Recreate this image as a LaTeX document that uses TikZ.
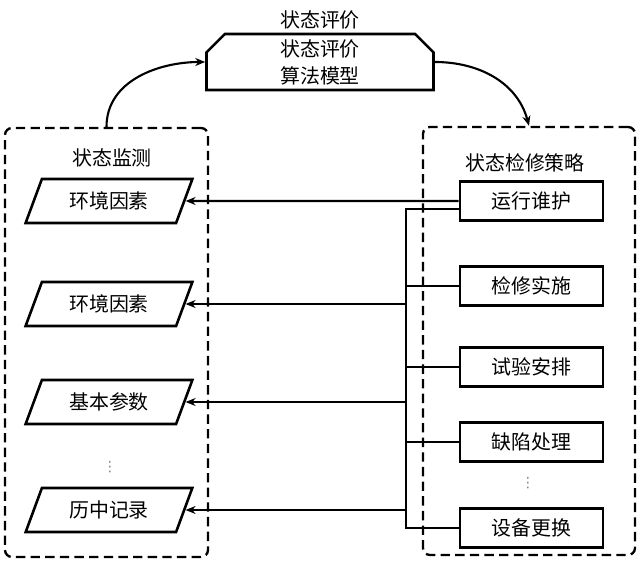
\documentclass[tikz,border=0pt]{standalone}
\usepackage{fontspec}
\newfontfamily\cjk{Noto Sans CJK SC}
\newfontfamily\symfont{DejaVu Sans}
\usetikzlibrary{shapes.geometric, shapes.misc, arrows.meta, positioning}

\begin{document}
\begin{tikzpicture}[x=0.03cm, y=-0.03cm,
  every node/.style={font=\cjk\fontsize{17}{23}\selectfont},
  group/.style={draw, line width=2pt, dash pattern=on 8pt off 4.5pt, rounded corners=6pt},
  evalbox/.style={chamfered rectangle, chamfered rectangle corners={north west, north east}, chamfered rectangle xsep=0.45cm, draw, line width=2.2pt, minimum width=6.81cm, minimum height=1.68cm, inner sep=0pt, align=center},
  item/.style={trapezium, trapezium left angle=68, trapezium right angle=112, trapezium stretches=true, draw, line width=2.2pt, minimum width=5.04cm, minimum height=1.32cm},
  act/.style={rectangle, draw, line width=2.2pt, minimum width=4.29cm, minimum height=1.17cm},
  line/.style={line width=1.8pt},
  arrow/.style={line, -{Stealth[length=3mm, width=2.4mm]}},
  dots/.style={text=gray, font=\symfont\fontsize{12}{12}\selectfont}
]
  \useasboundingbox (0,0) rectangle (641,571);

  % Evaluation model
  \node (evaltitle) at (320,20) {状态评价};
  \node[evalbox] (eval) at (320,62) {状态评价\\算法模型};

  % Groups
  \node[group, minimum width=6.09cm, minimum height=12.87cm] (mon) at (106.5,342.5) {};
  \node[group, minimum width=6.36cm, minimum height=12.84cm] (strat) at (529,341) {};
  \node (montitle) at (112,158) {状态监测};
  \node (strattitle) at (525,163) {状态检修策略};

  % Monitoring items
  \node[item] (env1) at (109,201) {环境因素};
  \node[item] (env2) at (109,304) {环境因素};
  \node[item] (param) at (109,402) {基本参数};
  \node[dots] (mondots) at (110,467) {⋮};
  \node[item] (hist) at (109,510) {历中记录};

  % Strategy items
  \node[act] (op) at (531.5,201) {运行谁护};
  \node[act] (repair) at (531.5,286) {检修实施};
  \node[act] (test) at (531.5,367) {试验安排};
  \node[act] (defect) at (531.5,442) {缺陷处理};
  \node[dots] (stratdots) at (528,483) {⋮};
  \node[act] (swap) at (531.5,528) {设备更换};

  % Bus
  \coordinate (bustop) at (406,209);
  \draw[line] (op.west |- bustop) -- (bustop) -- (bustop |- swap.west) -- (swap.west);
  \draw[line] (repair.west) -- (repair.west -| bustop);
  \draw[line] (test.west) -- (test.west -| bustop);
  \draw[line] (defect.west) -- (defect.west -| bustop);

  % Arrows
  \draw[arrow] (op.west) -- (env1.east);
  \draw[arrow] (bustop |- env2.east) -- (env2.east);
  \draw[arrow] (bustop |- param.east) -- (param.east);
  \draw[arrow] (bustop |- hist.east) -- (hist.east);
  \draw[arrow] (mon.north) to[out=90, in=180] (eval.west);
  \draw[arrow] (eval.east) to[out=0, in=105] (strat.north);
\end{tikzpicture}
\end{document}
